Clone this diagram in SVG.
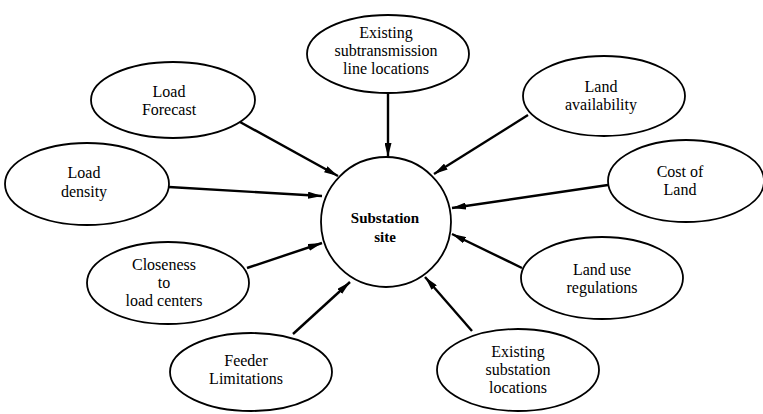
<svg xmlns="http://www.w3.org/2000/svg" width="763" height="414" viewBox="0 0 763 414">
<style>
.node ellipse, .node circle { fill: #ffffff; stroke: #000000; stroke-width: 1.8; }
.node text { font-family: "Liberation Serif", "Times New Roman", serif; font-size: 16px; fill: #000000; text-anchor: middle; }
.node text.main { font-weight: bold; font-size: 15px; }
#connectors line { stroke: #000000; stroke-width: 2.4; marker-end: url(#arrow); }
</style>
<defs>
<marker id="arrow" markerUnits="userSpaceOnUse" markerWidth="14" markerHeight="7" refX="14" refY="3.5" orient="auto">
<path d="M0,0 L14,3.5 L0,7 z" fill="#000000"/>
</marker>
</defs>
<rect width="763" height="414" fill="#ffffff"/>
<g id="connectors">
<line x1="388" y1="93" x2="388" y2="157"/>
<line x1="240" y1="122" x2="338" y2="176"/>
<line x1="169" y1="187" x2="322" y2="196"/>
<line x1="247" y1="268" x2="322" y2="243"/>
<line x1="293" y1="334" x2="350" y2="282"/>
<line x1="472" y1="331" x2="425" y2="277"/>
<line x1="522" y1="268" x2="452" y2="234"/>
<line x1="608" y1="185" x2="452" y2="208"/>
<line x1="528" y1="115" x2="434" y2="174"/>
</g>
<g id="node-center" class="node">
<circle cx="386" cy="222" r="65"/>
<text class="main" x="385" y="223">Substation</text>
<text class="main" x="385" y="242">site</text>
</g>
<g id="node-subtransmission" class="node">
<ellipse cx="388" cy="54" rx="81" ry="39"/>
<text x="386" y="38">Existing</text>
<text x="386" y="56">subtransmission</text>
<text x="386" y="74">line locations</text>
</g>
<g id="node-load-forecast" class="node">
<ellipse cx="173" cy="100" rx="82" ry="38"/>
<text x="169" y="97">Load</text>
<text x="169" y="115">Forecast</text>
</g>
<g id="node-load-density" class="node">
<ellipse cx="87" cy="184" rx="82" ry="41"/>
<text x="84" y="178">Load</text>
<text x="84" y="197">density</text>
</g>
<g id="node-closeness" class="node">
<ellipse cx="168" cy="283" rx="81" ry="41"/>
<text x="164" y="270">Closeness</text>
<text x="164" y="288">to</text>
<text x="164" y="306">load centers</text>
</g>
<g id="node-feeder" class="node">
<ellipse cx="251" cy="372" rx="81" ry="39"/>
<text x="246" y="366">Feeder</text>
<text x="246" y="384">Limitations</text>
</g>
<g id="node-existing-substation" class="node">
<ellipse cx="518" cy="370" rx="81" ry="41"/>
<text x="518" y="357">Existing</text>
<text x="518" y="375">substation</text>
<text x="518" y="393">locations</text>
</g>
<g id="node-land-use" class="node">
<ellipse cx="602" cy="278" rx="81" ry="41"/>
<text x="602" y="275">Land use</text>
<text x="602" y="293">regulations</text>
</g>
<g id="node-cost-of-land" class="node">
<ellipse cx="686" cy="181" rx="78" ry="41"/>
<text x="680" y="177">Cost of</text>
<text x="680" y="195">Land</text>
</g>
<g id="node-land-availability" class="node">
<ellipse cx="604" cy="96" rx="81" ry="40"/>
<text x="601" y="92">Land</text>
<text x="601" y="110">availability</text>
</g>
</svg>
